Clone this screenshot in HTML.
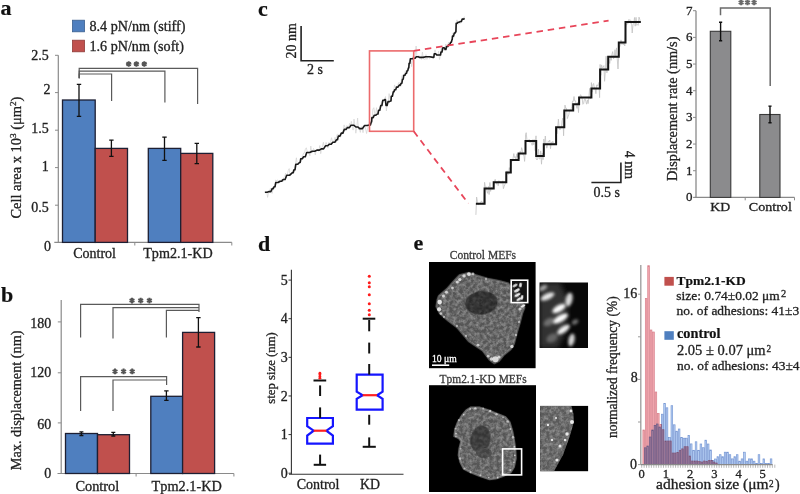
<!DOCTYPE html><html><head><meta charset="utf-8"><style>html,body{margin:0;padding:0;background:#fff;width:800px;height:494px;overflow:hidden}text{font-family:'Liberation Serif',serif}</style></head><body><svg width="800" height="494" viewBox="0 0 800 494" style="display:block;filter:blur(0.4px);font-family:'Liberation Serif',serif"><text x="0.5" y="15.3" font-size="22" text-anchor="start" font-weight="bold" fill="#111" stroke="#111" stroke-width="0.2" >a</text>
<text x="1" y="301.5" font-size="22" text-anchor="start" font-weight="bold" fill="#111" stroke="#111" stroke-width="0.2" >b</text>
<text x="258" y="15.5" font-size="22" text-anchor="start" font-weight="bold" fill="#111" stroke="#111" stroke-width="0.2" >c</text>
<text x="258" y="250.8" font-size="22" text-anchor="start" font-weight="bold" fill="#111" stroke="#111" stroke-width="0.2" >d</text>
<text x="413.5" y="250.4" font-size="22" text-anchor="start" font-weight="bold" fill="#111" stroke="#111" stroke-width="0.2" >e</text>
<rect x="72.5" y="20.2" width="12" height="11.6" fill="#4f7fbf" stroke="#3b5f8f" stroke-width="0.8" />
<rect x="72.5" y="40.2" width="12" height="11.6" fill="#c0504d" stroke="#8f3b39" stroke-width="0.8" />
<text x="89.5" y="31.3" font-size="14" text-anchor="start" font-weight="normal" fill="#222" stroke="#222" stroke-width="0.3" textLength="96" lengthAdjust="spacingAndGlyphs" >8.4 pN/nm (stiff)</text>
<text x="89.5" y="51.3" font-size="14" text-anchor="start" font-weight="normal" fill="#222" stroke="#222" stroke-width="0.3" textLength="94.5" lengthAdjust="spacingAndGlyphs" >1.6 pN/nm (soft)</text>
<line x1="58.3" y1="55.3" x2="58.3" y2="242.4" stroke="#8a8a8a" stroke-width="1.2" />
<line x1="54.3" y1="242.4" x2="231.8" y2="242.4" stroke="#8a8a8a" stroke-width="1.2" />
<line x1="55" y1="55.3" x2="58.3" y2="55.3" stroke="#8a8a8a" stroke-width="1" />
<line x1="55" y1="92.6" x2="58.3" y2="92.6" stroke="#8a8a8a" stroke-width="1" />
<line x1="55" y1="130.2" x2="58.3" y2="130.2" stroke="#8a8a8a" stroke-width="1" />
<line x1="55" y1="167.6" x2="58.3" y2="167.6" stroke="#8a8a8a" stroke-width="1" />
<line x1="55" y1="205.2" x2="58.3" y2="205.2" stroke="#8a8a8a" stroke-width="1" />
<line x1="134.8" y1="242.4" x2="134.8" y2="245.5" stroke="#8a8a8a" stroke-width="1" />
<line x1="231.8" y1="242.4" x2="231.8" y2="245.5" stroke="#8a8a8a" stroke-width="1" />
<text x="48.8" y="59.6" font-size="14" text-anchor="end" font-weight="normal" fill="#222" stroke="#222" stroke-width="0.3" >2.5</text>
<text x="50.6" y="93.5" font-size="14" text-anchor="end" font-weight="normal" fill="#222" stroke="#222" stroke-width="0.3" >2</text>
<text x="48.8" y="133" font-size="14" text-anchor="end" font-weight="normal" fill="#222" stroke="#222" stroke-width="0.3" >1.5</text>
<text x="48.8" y="170.6" font-size="14" text-anchor="end" font-weight="normal" fill="#222" stroke="#222" stroke-width="0.3" >1</text>
<text x="48.8" y="211.9" font-size="14" text-anchor="end" font-weight="normal" fill="#222" stroke="#222" stroke-width="0.3" >0.5</text>
<text x="51" y="251.4" font-size="14" text-anchor="end" font-weight="normal" fill="#222" stroke="#222" stroke-width="0.3" >0</text>
<rect x="62.5" y="100" width="32.7" height="142.4" fill="#4f7fbf" stroke="#1d1f33" stroke-width="1.3" />
<rect x="95.2" y="148.4" width="32.3" height="94.0" fill="#c0504d" stroke="#1d1f33" stroke-width="1.3" />
<rect x="148.3" y="148.4" width="32.39999999999998" height="94.0" fill="#4f7fbf" stroke="#1d1f33" stroke-width="1.3" />
<rect x="180.7" y="153.4" width="32.10000000000002" height="89.0" fill="#c0504d" stroke="#1d1f33" stroke-width="1.3" />
<path d="M79 84.4V116.3M76.8 84.4H81.2M76.8 116.3H81.2" stroke="#111" stroke-width="1.3" fill="none" />
<path d="M111.4 140.2V156.4M109.2 140.2H113.60000000000001M109.2 156.4H113.60000000000001" stroke="#111" stroke-width="1.3" fill="none" />
<path d="M164.5 137.2V160.4M162.3 137.2H166.7M162.3 160.4H166.7" stroke="#111" stroke-width="1.3" fill="none" />
<path d="M196.8 143.4V163.6M194.60000000000002 143.4H199.0M194.60000000000002 163.6H199.0" stroke="#111" stroke-width="1.3" fill="none" />
<path d="M79.2 78.2V68.4H197.6V104" stroke="#5a5a5a" stroke-width="1.2" fill="none" />
<path d="M79.2 78.2V71.2H164.9V102.5" stroke="#5a5a5a" stroke-width="1.2" fill="none" />
<path d="M79.2 78.2V74H111.6V101" stroke="#5a5a5a" stroke-width="1.2" fill="none" />
<path d="M128.70 61.20L128.70 66.80M126.28 62.60L131.12 65.40M126.28 65.40L131.12 62.60" stroke="#555" stroke-width="2" fill="none" />
<path d="M136.40 61.20L136.40 66.80M133.98 62.60L138.82 65.40M133.98 65.40L138.82 62.60" stroke="#555" stroke-width="2" fill="none" />
<path d="M144.30 61.20L144.30 66.80M141.88 62.60L146.72 65.40M141.88 65.40L146.72 62.60" stroke="#555" stroke-width="2" fill="none" />
<text x="73.2" y="257.6" font-size="14" text-anchor="start" font-weight="normal" fill="#222" stroke="#222" stroke-width="0.3" textLength="42.8" lengthAdjust="spacingAndGlyphs" >Control</text>
<text x="143.2" y="257.6" font-size="14" text-anchor="start" font-weight="normal" fill="#222" stroke="#222" stroke-width="0.3" textLength="69.6" lengthAdjust="spacingAndGlyphs" >Tpm2.1-KD</text>
<text x="0" y="0" font-size="14" text-anchor="middle" font-weight="normal" fill="#222" stroke="#222" stroke-width="0.3" textLength="122" lengthAdjust="spacingAndGlyphs" transform="translate(21.4 157.6) rotate(-90)">Cell area x 10<tspan font-size='9' dy='-5'>3</tspan><tspan dy='5'> (μm</tspan><tspan font-size='9' dy='-5'>2</tspan><tspan dy='5'>)</tspan></text>
<line x1="61.2" y1="300" x2="61.2" y2="473.5" stroke="#8a8a8a" stroke-width="1.2" />
<line x1="57.5" y1="473.5" x2="233.9" y2="473.5" stroke="#8a8a8a" stroke-width="1.2" />
<line x1="57.8" y1="321.9" x2="61.2" y2="321.9" stroke="#8a8a8a" stroke-width="1" />
<line x1="57.8" y1="372.8" x2="61.2" y2="372.8" stroke="#8a8a8a" stroke-width="1" />
<line x1="57.8" y1="422.9" x2="61.2" y2="422.9" stroke="#8a8a8a" stroke-width="1" />
<line x1="136.1" y1="473.5" x2="136.1" y2="476.5" stroke="#8a8a8a" stroke-width="1" />
<line x1="233.9" y1="473.5" x2="233.9" y2="476.5" stroke="#8a8a8a" stroke-width="1" />
<text x="51.3" y="328.4" font-size="14" text-anchor="end" font-weight="normal" fill="#222" stroke="#222" stroke-width="0.3" >180</text>
<text x="51.3" y="377.4" font-size="14" text-anchor="end" font-weight="normal" fill="#222" stroke="#222" stroke-width="0.3" >120</text>
<text x="51.3" y="428.6" font-size="14" text-anchor="end" font-weight="normal" fill="#222" stroke="#222" stroke-width="0.3" >60</text>
<text x="51.3" y="477.8" font-size="14" text-anchor="end" font-weight="normal" fill="#222" stroke="#222" stroke-width="0.3" >0</text>
<rect x="65.5" y="433.5" width="32.0" height="40.0" fill="#4f7fbf" stroke="#1d1f33" stroke-width="1.3" />
<rect x="97.5" y="434.7" width="32.0" height="38.80000000000001" fill="#c0504d" stroke="#1d1f33" stroke-width="1.3" />
<rect x="150.8" y="396.3" width="31.799999999999983" height="77.19999999999999" fill="#4f7fbf" stroke="#1d1f33" stroke-width="1.3" />
<rect x="182.6" y="332.4" width="32.0" height="141.10000000000002" fill="#c0504d" stroke="#1d1f33" stroke-width="1.3" />
<path d="M81.4 431.8V435.5M79.4 431.8H83.4M79.4 435.5H83.4" stroke="#111" stroke-width="1.3" fill="none" />
<path d="M113.3 432.4V436M111.3 432.4H115.3M111.3 436H115.3" stroke="#111" stroke-width="1.3" fill="none" />
<path d="M166.4 390.9V400.3M164.20000000000002 390.9H168.6M164.20000000000002 400.3H168.6" stroke="#111" stroke-width="1.3" fill="none" />
<path d="M198.4 317.6V347M196.20000000000002 317.6H200.6M196.20000000000002 347H200.6" stroke="#111" stroke-width="1.3" fill="none" />
<path d="M80.6 337.4V304.4H199V312" stroke="#5a5a5a" stroke-width="1.2" fill="none" />
<path d="M113 338.6V307.6H199" stroke="#5a5a5a" stroke-width="1.2" fill="none" />
<path d="M166.4 337.4V310.4H199" stroke="#5a5a5a" stroke-width="1.2" fill="none" />
<path d="M132.00 297.80L132.00 303.40M129.58 299.20L134.42 302.00M129.58 302.00L134.42 299.20" stroke="#555" stroke-width="2" fill="none" />
<path d="M140.70 297.80L140.70 303.40M138.28 299.20L143.12 302.00M138.28 302.00L143.12 299.20" stroke="#555" stroke-width="2" fill="none" />
<path d="M149.40 297.80L149.40 303.40M146.98 299.20L151.82 302.00M146.98 302.00L151.82 299.20" stroke="#555" stroke-width="2" fill="none" />
<path d="M80.6 411V376.6H166.6V385" stroke="#5a5a5a" stroke-width="1.2" fill="none" />
<path d="M113 411V380H166.6" stroke="#5a5a5a" stroke-width="1.2" fill="none" />
<path d="M115.00 368.60L115.00 374.20M112.58 370.00L117.42 372.80M112.58 372.80L117.42 370.00" stroke="#555" stroke-width="2" fill="none" />
<path d="M123.60 368.60L123.60 374.20M121.18 370.00L126.02 372.80M121.18 372.80L126.02 370.00" stroke="#555" stroke-width="2" fill="none" />
<path d="M132.20 368.60L132.20 374.20M129.78 370.00L134.62 372.80M129.78 372.80L134.62 370.00" stroke="#555" stroke-width="2" fill="none" />
<text x="75.4" y="490.8" font-size="14" text-anchor="start" font-weight="normal" fill="#222" stroke="#222" stroke-width="0.3" textLength="43.9" lengthAdjust="spacingAndGlyphs" >Control</text>
<text x="151.5" y="490.8" font-size="14" text-anchor="start" font-weight="normal" fill="#222" stroke="#222" stroke-width="0.3" textLength="70.4" lengthAdjust="spacingAndGlyphs" >Tpm2.1-KD</text>
<text x="0" y="0" font-size="14" text-anchor="middle" font-weight="normal" fill="#222" stroke="#222" stroke-width="0.3" textLength="139.7" lengthAdjust="spacingAndGlyphs" transform="translate(21.2 400.3) rotate(-90)">Max. displacement (nm)</text>
<polyline points="264.9,191.6 265.8,193.2 266.7,191.4 267.6,197.4 268.5,192.6 269.4,191.7 270.3,188.5 271.2,188.5 272.1,193.4 273.0,189.0 273.9,189.2 274.8,186.6 275.7,179.9 276.6,181.1 277.5,179.9 278.4,180.5 279.3,183.1 280.2,182.1 281.1,180.0 282.0,179.6 282.9,181.7 283.8,177.7 284.7,176.5 285.6,173.2 286.5,177.8 287.4,174.0 288.3,170.3 289.2,168.6 290.1,176.1 291.0,173.7 291.9,173.1 292.8,170.6 293.7,172.4 294.6,169.1 295.5,163.5 296.4,157.8 297.3,164.7 298.2,163.8 299.1,162.7 300.0,161.2 300.9,161.9 301.8,157.1 302.7,155.7 303.6,153.1 304.5,152.9 305.4,149.1 306.3,147.8 307.2,151.2 308.1,153.2 309.0,153.3 309.9,155.8 310.8,146.0 311.7,153.0 312.6,152.4 313.5,148.5 314.4,149.9 315.3,154.9 316.2,149.7 317.1,149.1 318.0,151.1 318.9,151.0 319.8,145.5 320.7,153.7 321.6,149.1 322.5,146.1 323.4,142.2 324.3,147.6 325.2,146.5 326.1,142.4 327.0,145.6 327.9,148.1 328.8,142.4 329.7,144.5 330.6,141.6 331.5,137.7 332.4,141.1 333.3,142.3 334.2,140.1 335.1,137.3 336.0,142.4 336.9,134.9 337.8,133.9 338.7,135.3 339.6,136.4 340.5,137.2 341.4,134.3 342.3,134.2 343.2,130.2 344.1,124.9 345.0,127.8 345.9,127.4 346.8,125.5 347.7,127.4 348.6,128.6 349.5,123.4 350.4,126.7 351.3,121.3 352.2,125.4 353.1,130.1 354.0,119.1 354.9,125.1 355.8,133.2 356.7,128.3 357.6,118.1 358.5,129.6 359.4,128.2 360.3,132.4 361.2,127.4 362.1,126.3 363.0,132.7 363.9,125.6 364.8,125.6 365.7,129.1 366.6,133.5 367.5,128.8 368.4,126.0 369.3,122.6 370.2,125.2 371.1,121.5 372.0,121.4 372.9,109.0 373.8,107.7 374.7,113.1 375.6,115.3 376.5,107.7 377.4,113.4 378.3,111.7 379.2,110.8 380.1,106.5 381.0,103.9 381.9,101.0 382.8,100.2 383.7,101.8 384.6,99.3 385.5,96.6 386.4,110.9 387.3,102.3 388.2,101.9 389.1,93.6 390.0,99.1 390.9,101.5 391.8,95.2 392.7,93.4 393.6,92.6 394.5,84.9 395.4,87.5 396.3,86.0 397.2,87.8 398.1,84.0 399.0,82.3 399.9,86.5 400.8,86.4 401.7,76.3 402.6,74.9 403.5,76.8 404.4,75.0 405.3,70.9 406.2,71.4 407.1,69.9 408.0,69.1 408.9,64.6 409.8,58.4 410.7,59.1 411.6,66.7 412.5,58.7 413.4,55.2 414.3,57.8 415.2,56.0 416.1,46.0 417.0,57.4 417.9,56.6 418.8,55.5 419.7,57.0 420.6,58.2 421.5,59.4 422.4,52.1 423.3,58.7 424.2,59.0 425.1,59.5 426.0,54.6 426.9,59.4 427.8,57.0 428.7,56.0 429.6,58.7 430.5,57.8 431.4,56.3 432.3,57.3 433.2,57.9 434.1,54.5 435.0,49.8 435.9,53.7 436.8,54.1 437.7,55.6 438.6,51.2 439.5,59.5 440.4,55.8 441.3,47.8 442.2,50.3 443.1,49.0 444.0,50.6 444.9,47.9 445.8,44.0 446.7,48.7 447.6,46.8 448.5,42.3 449.4,43.9 450.3,42.2 451.2,42.0 452.1,41.3 453.0,32.9 453.9,37.3 454.8,34.0 455.7,32.3 456.6,20.0 457.5,20.2 458.4,24.2 459.3,23.4 460.2,23.2 461.1,22.8 462.0,19.4 462.9,19.3 463.8,17.2 464.7,16.8" fill="none" stroke="#d2d2d2" stroke-width="0.7"/>
<path d="M264.9 192.2L267.2 192.2L269.1 191.6L270.8 191.6L272.2 188.6L273.2 188.6L274 186.8L275.0 186.8L275.8 182.5L278.1 182.5L280 181.3L281.7 181.3L283.1 179.5L285.1 179.5L286.7 175.2L289.7 175.2L292.2 172.8L293.2 172.8L294 169.8L295.0 169.8L295.8 164.3L297.8 164.3L299.5 162.5L300.2 162.5L300.7 158.8L302.3 158.8L303.6 156.8L305.3 156.8L306.7 152.5L309.7 152.5L312.2 151.3L314.8 151.3L317 150.1L319.4 150.1L321.3 148.9L323.6 148.9L325.5 145.8L327.5 145.8L329.2 144.3L331.2 144.3L332.8 142.2L334.8 142.2L336.5 139.8L337.5 139.8L338.3 136.1L339.9 136.1L341.3 133.1L342.9 133.1L344.3 129.4L346.0 129.4L347.4 127.6L349.4 127.6L351 125.2L353.7 125.2L355.9 127L358.0 127L359.7 128.6L362.4 128.6L364.6 125.5L367.2 125.5L369.4 124.9L370.4 124.9L371.3 121.9L371.6 121.9L371.9 117.6L373.2 117.6L374.3 115.2L375.9 115.2L377.3 114L378.0 114L378.6 110.3L379.8 110.3L380.8 105.5L381.9 105.5L382.8 100.3L383.8 100.3L384.7 99.6L385.4 99.6L386 105.5L387.1 105.5L388 101.6L389.5 101.6L390.7 100.9L391.0 100.9L391.3 96.3L392.4 96.3L393.3 91.7L394.0 91.7L394.6 89.7L395.7 89.7L396.6 87.1L398.0 87.1L399.2 85.1L400.3 85.1L401.2 83.2L401.9 83.2L402.5 79.2L403.2 79.2L403.8 75.3L404.9 75.3L405.8 73.3L406.5 73.3L407.1 70.7L407.8 70.7L408.4 68L408.8 68L409.1 63.4L409.8 63.4L410.4 58.8L412.2 58.8L413.7 58.2L415.1 58.2L416.3 56.8L418.2 56.8L419.7 57.4L423.1 57.4L425.8 56.8L429.8 56.8L433.1 57.4L433.8 57.4L434.3 53.7L435.6 53.7L436.7 55L438.4 55L439.8 55L440.5 55L441 52L442.0 52L442.8 47.7L444.1 47.7L445.2 49.5L445.9 49.5L446.5 46.5L447.8 46.5L448.9 44.6L449.9 44.6L450.7 42.2L451.4 42.2L451.9 39.8L452.2 39.8L452.5 36.1L453.5 36.1L454.3 33.1L455.0 33.1L455.6 31.9L455.9 31.9L456.2 23.4L457.2 23.4L458 22.2L459.3 22.2L460.4 21.5L461.4 21.5L462.2 19.1L463.6 19.1L464.7 18.5" stroke="#1a1a1a" stroke-width="1.6" fill="none" stroke-linejoin="round"/>
<polyline points="475.9,214.9 476.6,197.1 477.4,201.5 478.1,204.6 478.9,204.5 479.6,203.3 480.4,203.4 481.1,201.3 481.9,201.3 482.6,203.5 483.4,204.3 484.1,190.8 484.6,182.3 485.4,187.7 486.1,186.7 486.9,191.3 487.6,193.3 488.4,186.4 489.1,194.5 489.9,182.5 490.6,191.4 491.4,187.1 492.1,189.4 492.9,187.4 493.6,186.3 493.7,182.2 494.4,181.4 495.2,179.3 495.9,182.4 496.7,184.3 497.4,181.7 498.2,185.7 498.9,180.6 499.7,182.8 500.4,181.7 501.2,183.3 501.9,182.4 502.7,180.8 503.4,188.7 504.2,186.3 504.9,184.5 505.7,182.4 506.3,172.4 507.1,170.8 507.8,174.2 508.6,174.3 509.3,167.6 510.1,171.3 510.8,167.8 511.6,161.1 512.3,161.2 513.0,158.7 513.8,153.6 514.5,157.5 515.3,156.6 516.0,159.9 516.8,153.8 517.5,157.2 518.3,153.6 518.6,157.3 519.4,159.0 520.1,151.2 520.9,153.4 521.6,147.7 522.4,150.3 523.1,155.0 523.9,154.9 524.6,161.4 525.4,150.9 525.5,134.8 526.2,132.7 527.0,141.0 527.8,142.0 528.5,140.2 529.2,139.3 530.0,142.5 530.8,141.7 531.5,143.6 532.2,145.3 533.0,139.5 533.8,144.9 534.5,139.7 535.2,150.7 536.0,135.8 536.2,158.7 537.0,160.0 537.7,158.8 538.5,149.1 539.2,158.8 540.0,158.9 540.7,150.9 541.5,164.2 542.2,152.9 543.0,159.7 543.7,153.5 543.8,139.1 544.5,145.7 545.3,136.0 546.0,143.8 546.8,148.2 547.5,145.3 548.3,140.9 549.0,141.8 549.8,140.0 550.5,148.7 551.3,141.9 552.0,144.4 552.8,141.3 553.5,143.3 554.3,143.3 555.0,144.1 555.8,143.1 556.1,127.1 556.9,133.8 557.6,128.5 558.4,119.2 559.1,127.6 559.9,129.9 560.6,128.4 561.4,127.9 562.1,120.8 562.9,118.0 563.6,135.8 564.3,113.4 565.0,105.1 565.8,108.6 566.5,108.3 567.3,118.6 568.0,116.8 568.8,114.8 569.5,110.3 570.3,110.6 571.0,109.6 571.8,106.5 572.5,101.2 573.2,101.7 574.0,96.5 574.7,100.9 575.5,100.8 576.2,104.9 577.0,108.4 577.7,102.2 578.5,112.6 579.1,101.3 579.9,96.3 580.6,94.7 581.4,96.3 582.1,98.1 582.9,104.3 583.6,103.6 584.4,99.4 585.1,98.8 585.9,101.6 586.6,104.2 587.4,99.9 588.1,103.6 588.9,97.6 589.6,88.4 590.4,98.9 591.1,95.3 591.4,82.6 592.1,92.2 592.9,84.6 593.6,83.5 594.4,88.0 595.1,88.3 595.9,93.7 596.6,85.0 597.4,84.8 598.1,86.4 598.9,82.4 599.6,97.7 600.1,64.4 600.9,75.3 601.6,64.9 602.4,67.9 603.1,67.1 603.9,65.6 604.6,81.3 605.4,70.2 606.1,56.2 606.9,72.9 607.6,64.7 608.2,57.9 609.0,57.6 609.7,63.5 610.5,57.0 611.2,60.4 612.0,54.1 612.7,51.6 613.5,58.8 614.2,57.6 615.0,49.7 615.7,57.2 616.5,47.9 617.2,58.2 618.0,69.0 618.7,56.2 618.8,47.4 619.5,47.4 620.3,45.2 621.0,39.9 621.8,44.4 622.5,43.2 623.3,44.9 624.0,42.9 624.8,46.0 625.5,27.1 626.2,24.2 627.0,23.6 627.8,24.1 628.5,19.7 629.2,20.3 630.0,19.5 630.8,23.4 631.5,20.9 632.2,33.0 633.0,24.4 633.8,23.8 634.5,17.5 635.2,26.2 636.0,17.3 636.8,25.3 637.5,24.6 638.2,25.3 639.0,17.1 639.8,19.5 640.5,22.6" fill="none" stroke="#c2c2c2" stroke-width="0.8"/>
<path d="M475.9 203.7H484.6V188.6H493.7V182.2H506.3V172.6H510.8V160H518.6V153.5H525.5V141.1H536.2V156H543.8V144.2H556.1V127.2H564.3V110.6H573.2V104.2H579.1V97.4H591.4V88.4H600.1V69.5H608.2V56.7H618.8V42.5H625.5V21.9H640.8" stroke="#151515" stroke-width="2" fill="none" />
<rect x="369.5" y="50.9" width="44.2" height="80.4" fill="none" stroke="#ec6a6c" stroke-width="1.6" />
<line x1="413.7" y1="50.9" x2="608.6" y2="20.7" stroke="#e8465a" stroke-width="1.8" stroke-dasharray="6.5 4.8"/>
<line x1="413.7" y1="131.3" x2="468.3" y2="203.5" stroke="#e8465a" stroke-width="1.8" stroke-dasharray="6.5 4.8"/>
<path d="M301.1 25.9V60.7H333.8" stroke="#222" stroke-width="1.6" fill="none" />
<text x="0" y="0" font-size="14" text-anchor="middle" font-weight="normal" fill="#222" stroke="#222" stroke-width="0.3" transform="translate(296.2 40.9) rotate(-90)">20 nm</text>
<text x="307" y="74.1" font-size="14" text-anchor="start" font-weight="normal" fill="#222" stroke="#222" stroke-width="0.3" >2 s</text>
<path d="M620.9 162.5V182.5H591.4" stroke="#222" stroke-width="1.6" fill="none" />
<text x="0" y="0" font-size="14" text-anchor="middle" font-weight="normal" fill="#222" stroke="#222" stroke-width="0.3" transform="translate(625.4 164.9) rotate(90)">4 nm</text>
<text x="593.6" y="196.5" font-size="14" text-anchor="start" font-weight="normal" fill="#222" stroke="#222" stroke-width="0.3" >0.5 s</text>
<line x1="696" y1="10.7" x2="696" y2="197.4" stroke="#8a8a8a" stroke-width="1.3" />
<line x1="694.5" y1="197.4" x2="794.5" y2="197.4" stroke="#8a8a8a" stroke-width="1.3" />
<line x1="693" y1="197.4" x2="696" y2="197.4" stroke="#8a8a8a" stroke-width="1" />
<text x="692.6" y="201.3" font-size="13" text-anchor="end" font-weight="normal" fill="#222" stroke="#222" stroke-width="0.3" >0</text>
<line x1="693" y1="170.73000000000002" x2="696" y2="170.73000000000002" stroke="#8a8a8a" stroke-width="1" />
<text x="692.6" y="174.63000000000002" font-size="13" text-anchor="end" font-weight="normal" fill="#222" stroke="#222" stroke-width="0.3" >1</text>
<line x1="693" y1="144.06" x2="696" y2="144.06" stroke="#8a8a8a" stroke-width="1" />
<text x="692.6" y="147.96" font-size="13" text-anchor="end" font-weight="normal" fill="#222" stroke="#222" stroke-width="0.3" >2</text>
<line x1="693" y1="117.39" x2="696" y2="117.39" stroke="#8a8a8a" stroke-width="1" />
<text x="692.6" y="121.29" font-size="13" text-anchor="end" font-weight="normal" fill="#222" stroke="#222" stroke-width="0.3" >3</text>
<line x1="693" y1="90.72" x2="696" y2="90.72" stroke="#8a8a8a" stroke-width="1" />
<text x="692.6" y="94.62" font-size="13" text-anchor="end" font-weight="normal" fill="#222" stroke="#222" stroke-width="0.3" >4</text>
<line x1="693" y1="64.04999999999998" x2="696" y2="64.04999999999998" stroke="#8a8a8a" stroke-width="1" />
<text x="692.6" y="67.94999999999999" font-size="13" text-anchor="end" font-weight="normal" fill="#222" stroke="#222" stroke-width="0.3" >5</text>
<line x1="693" y1="37.379999999999995" x2="696" y2="37.379999999999995" stroke="#8a8a8a" stroke-width="1" />
<text x="692.6" y="41.279999999999994" font-size="13" text-anchor="end" font-weight="normal" fill="#222" stroke="#222" stroke-width="0.3" >6</text>
<line x1="693" y1="10.710000000000008" x2="696" y2="10.710000000000008" stroke="#8a8a8a" stroke-width="1" />
<text x="692.6" y="14.610000000000008" font-size="13" text-anchor="end" font-weight="normal" fill="#222" stroke="#222" stroke-width="0.3" >7</text>
<line x1="745.2" y1="197.4" x2="745.2" y2="200.3" stroke="#8a8a8a" stroke-width="1" />
<line x1="794.5" y1="197.4" x2="794.5" y2="200.3" stroke="#8a8a8a" stroke-width="1" />
<rect x="710.3" y="31.3" width="20.5" height="166.1" fill="#8b8b8d" stroke="#3a3a3a" stroke-width="1.1" />
<rect x="759.8" y="114.5" width="20.2" height="82.9" fill="#8b8b8d" stroke="#3a3a3a" stroke-width="1.1" />
<path d="M720.6 22.2V40.7M719.0 22.2H722.2M719.0 40.7H722.2" stroke="#111" stroke-width="1.4" fill="none" />
<path d="M770 106.1V122.8M768.4 106.1H771.6M768.4 122.8H771.6" stroke="#111" stroke-width="1.4" fill="none" />
<path d="M720.5 15.2V7.9H770.2V85.9" stroke="#6a6a6a" stroke-width="1.5" fill="none" />
<path d="M741.10 -0.40L741.10 5.20M738.68 1.00L743.52 3.80M738.68 3.80L743.52 1.00" stroke="#6a6a6a" stroke-width="2" fill="none" />
<path d="M747.50 -0.40L747.50 5.20M745.08 1.00L749.92 3.80M745.08 3.80L749.92 1.00" stroke="#6a6a6a" stroke-width="2" fill="none" />
<path d="M754.10 -0.40L754.10 5.20M751.68 1.00L756.52 3.80M751.68 3.80L756.52 1.00" stroke="#6a6a6a" stroke-width="2" fill="none" />
<text x="710.3" y="211" font-size="13" text-anchor="start" font-weight="normal" fill="#222" stroke="#222" stroke-width="0.3" textLength="19.9" lengthAdjust="spacingAndGlyphs" >KD</text>
<text x="748.8" y="211" font-size="13" text-anchor="start" font-weight="normal" fill="#222" stroke="#222" stroke-width="0.3" textLength="43" lengthAdjust="spacingAndGlyphs" >Control</text>
<text x="0" y="0" font-size="14.5" text-anchor="middle" font-weight="normal" fill="#222" stroke="#222" stroke-width="0.3" textLength="144.5" lengthAdjust="spacingAndGlyphs" transform="translate(677.3 108.8) rotate(-90)">Displacement rate (nm/s)</text>
<line x1="291.4" y1="269.7" x2="291.4" y2="474.3" stroke="#333" stroke-width="1.1" />
<line x1="289" y1="474.3" x2="403.5" y2="474.3" stroke="#333" stroke-width="1.1" />
<line x1="288.5" y1="473.2" x2="291.4" y2="473.2" stroke="#333" stroke-width="1" />
<text x="287.8" y="477.8" font-size="14" text-anchor="end" font-weight="normal" fill="#222" stroke="#222" stroke-width="0.3" >0</text>
<line x1="288.5" y1="434.58" x2="291.4" y2="434.58" stroke="#333" stroke-width="1" />
<text x="287.8" y="439.18" font-size="14" text-anchor="end" font-weight="normal" fill="#222" stroke="#222" stroke-width="0.3" >1</text>
<line x1="288.5" y1="395.96" x2="291.4" y2="395.96" stroke="#333" stroke-width="1" />
<text x="287.8" y="400.56" font-size="14" text-anchor="end" font-weight="normal" fill="#222" stroke="#222" stroke-width="0.3" >2</text>
<line x1="288.5" y1="357.34000000000003" x2="291.4" y2="357.34000000000003" stroke="#333" stroke-width="1" />
<text x="287.8" y="361.94000000000005" font-size="14" text-anchor="end" font-weight="normal" fill="#222" stroke="#222" stroke-width="0.3" >3</text>
<line x1="288.5" y1="318.72" x2="291.4" y2="318.72" stroke="#333" stroke-width="1" />
<text x="287.8" y="323.32000000000005" font-size="14" text-anchor="end" font-weight="normal" fill="#222" stroke="#222" stroke-width="0.3" >4</text>
<line x1="288.5" y1="280.1" x2="291.4" y2="280.1" stroke="#333" stroke-width="1" />
<text x="287.8" y="284.70000000000005" font-size="14" text-anchor="end" font-weight="normal" fill="#222" stroke="#222" stroke-width="0.3" >5</text>
<text x="0" y="0" font-size="13" text-anchor="middle" font-weight="normal" fill="#222" stroke="#222" stroke-width="0.3" textLength="71.5" lengthAdjust="spacingAndGlyphs" transform="translate(275 367.9) rotate(-90)">step size (nm)</text>
<path d="M307.2 418H332.9V426.2L326.4 430.7L332.9 435.5V443.7H307.2V435.5L313.7 430.7L307.2 426.2Z" stroke="#1515ff" stroke-width="2.2" fill="none" />
<line x1="313.7" y1="430.7" x2="326.4" y2="430.7" stroke="#ff2020" stroke-width="2.2" />
<path d="M356.7 374.6H382.6V391.6L377 395.2L382.6 398.9V409.6H356.7V398.9L362.7 395.2L356.7 391.6Z" stroke="#1515ff" stroke-width="2.2" fill="none" />
<line x1="362.7" y1="395.2" x2="377" y2="395.2" stroke="#ff2020" stroke-width="2.2" />
<line x1="320.1" y1="407.4" x2="320.1" y2="418" stroke="#111" stroke-width="2" />
<line x1="320.1" y1="385.4" x2="320.1" y2="396" stroke="#111" stroke-width="2" />
<line x1="313.5" y1="380.5" x2="326.2" y2="380.5" stroke="#111" stroke-width="2" />
<line x1="320.1" y1="454.6" x2="320.1" y2="464.8" stroke="#111" stroke-width="2" />
<line x1="313.7" y1="464.8" x2="326.1" y2="464.8" stroke="#111" stroke-width="2" />
<circle cx="319.9" cy="373.2" r="1.4" fill="#ff1a1a"/>
<circle cx="319.9" cy="374.8" r="1.4" fill="#ff1a1a"/>
<circle cx="319.9" cy="376.6" r="1.4" fill="#ff1a1a"/>
<circle cx="319.9" cy="378.2" r="1.4" fill="#ff1a1a"/>
<line x1="369.2" y1="364" x2="369.2" y2="374.6" stroke="#111" stroke-width="2" />
<line x1="369.2" y1="342.6" x2="369.2" y2="353.5" stroke="#111" stroke-width="2" />
<line x1="369.2" y1="320" x2="369.2" y2="331.3" stroke="#111" stroke-width="2" />
<line x1="362.7" y1="318.7" x2="375.3" y2="318.7" stroke="#111" stroke-width="2" />
<line x1="369.2" y1="414.8" x2="369.2" y2="424.7" stroke="#111" stroke-width="2" />
<line x1="369.2" y1="437.4" x2="369.2" y2="446.8" stroke="#111" stroke-width="2" />
<line x1="362.7" y1="446.8" x2="375.8" y2="446.8" stroke="#111" stroke-width="2" />
<circle cx="369.3" cy="276.2" r="1.5" fill="#ff1a1a"/>
<circle cx="369.3" cy="282.7" r="1.5" fill="#ff1a1a"/>
<circle cx="369.3" cy="286.7" r="1.5" fill="#ff1a1a"/>
<circle cx="369.3" cy="294.8" r="1.5" fill="#ff1a1a"/>
<circle cx="369.3" cy="303.8" r="1.5" fill="#ff1a1a"/>
<circle cx="369.3" cy="310.2" r="1.5" fill="#ff1a1a"/>
<circle cx="369.3" cy="314.8" r="1.5" fill="#ff1a1a"/>
<text x="296.7" y="489.1" font-size="14" text-anchor="start" font-weight="normal" fill="#222" stroke="#222" stroke-width="0.3" textLength="42.8" lengthAdjust="spacingAndGlyphs" >Control</text>
<text x="360" y="489" font-size="14" text-anchor="start" font-weight="normal" fill="#222" stroke="#222" stroke-width="0.3" textLength="20" lengthAdjust="spacingAndGlyphs" >KD</text>
<defs>
<filter id="spk" x="0" y="0" width="1" height="1">
 <feTurbulence type="fractalNoise" baseFrequency="0.3" numOctaves="4" seed="5" result="n"/>
 <feColorMatrix in="n" type="matrix" values="0 0 0 0 1  0 0 0 0 1  0 0 0 0 1  2.2 0 0 0 -0.72" result="w"/>
 <feComposite in="w" in2="SourceGraphic" operator="in" result="c"/>
 <feGaussianBlur in="c" stdDeviation="0.6"/>
</filter>
<filter id="bl1" x="-200%" y="-200%" width="500%" height="500%"><feGaussianBlur stdDeviation="0.6"/></filter>
<filter id="bl09" x="-300%" y="-300%" width="700%" height="700%"><feGaussianBlur stdDeviation="0.75"/></filter>
<filter id="bl15" x="-20%" y="-20%" width="140%" height="140%"><feGaussianBlur stdDeviation="1.1"/></filter>
<filter id="bl2" x="-100%" y="-100%" width="300%" height="300%"><feGaussianBlur stdDeviation="1.4"/></filter>
<filter id="bl3" x="-50%" y="-50%" width="200%" height="200%"><feGaussianBlur stdDeviation="2.5"/></filter>
<clipPath id="c1"><rect x="429" y="262" width="106.6" height="106.2"/></clipPath>
<clipPath id="c2"><rect x="429" y="385.2" width="107" height="106.8"/></clipPath>
<clipPath id="c3"><rect x="539.6" y="282.5" width="48.4" height="65.5"/></clipPath>
<clipPath id="c4"><rect x="540.1" y="405.9" width="48" height="65.3"/></clipPath>
</defs>
<rect x="429" y="262" width="106.6" height="106.2" fill="#000" stroke="none" stroke-width="1" />
<rect x="429" y="385.2" width="107" height="106.8" fill="#000" stroke="none" stroke-width="1" />
<g clip-path="url(#c1)">
<path d="M438.9 296.1L446.9 289.2L455 279.9L459.6 275.3L468.9 273L475.8 275.3L487.4 278.8L498.9 281.1L508.1 283.4L513.9 290.3L522 301.9L524.3 307.7L522 313.4L519.7 322.7L516.2 334.2L513.9 343.5L510.5 349.2L503.5 355L498.9 360.8L494.3 363.1L489.7 359.6L482.7 350.4L475.8 345.8L468.9 341.1L463.1 334.2L457.3 327.3L448.1 320.4L440 313.4L436.5 306.5L437.7 299.6Z" fill="#555555" filter="url(#bl15)"/>
<path d="M438.9 296.1L446.9 289.2L455 279.9L459.6 275.3L468.9 273L475.8 275.3L487.4 278.8L498.9 281.1L508.1 283.4L513.9 290.3L522 301.9L524.3 307.7L522 313.4L519.7 322.7L516.2 334.2L513.9 343.5L510.5 349.2L503.5 355L498.9 360.8L494.3 363.1L489.7 359.6L482.7 350.4L475.8 345.8L468.9 341.1L463.1 334.2L457.3 327.3L448.1 320.4L440 313.4L436.5 306.5L437.7 299.6Z" fill="#fff" filter="url(#spk)" opacity="0.3"/>
<path d="M438.9 296.1L446.9 289.2L455 279.9L459.6 275.3L468.9 273L475.8 275.3L487.4 278.8L498.9 281.1L508.1 283.4L513.9 290.3L522 301.9L524.3 307.7L522 313.4L519.7 322.7L516.2 334.2L513.9 343.5L510.5 349.2L503.5 355L498.9 360.8L494.3 363.1L489.7 359.6L482.7 350.4L475.8 345.8L468.9 341.1L463.1 334.2L457.3 327.3L448.1 320.4L440 313.4L436.5 306.5L437.7 299.6Z" fill="none" stroke="#bbb" stroke-width="2.2" opacity="0.35" filter="url(#bl1)"/>
<ellipse cx="481.4" cy="302.8" rx="16.2" ry="11.6" transform="rotate(-6 481.4 302.8)" fill="#2a2a2a" filter="url(#bl1)"/>
<ellipse cx="481.4" cy="302.8" rx="16.2" ry="11.6" transform="rotate(-6 481.4 302.8)" fill="#fff" filter="url(#spk)" opacity="0.12"/>
<circle cx="468.9" cy="274.1" r="1.90" fill="#f4f4f4" opacity="0.81" filter="url(#bl09)"/>
<circle cx="464.0" cy="275.9" r="1.71" fill="#f4f4f4" opacity="0.77" filter="url(#bl09)"/>
<circle cx="459.8" cy="279.6" r="1.71" fill="#f4f4f4" opacity="0.77" filter="url(#bl09)"/>
<circle cx="457.3" cy="282.0" r="1.52" fill="#f4f4f4" opacity="0.72" filter="url(#bl09)"/>
<circle cx="452.5" cy="288.1" r="1.42" fill="#f4f4f4" opacity="0.68" filter="url(#bl09)"/>
<circle cx="446.4" cy="292.3" r="1.52" fill="#f4f4f4" opacity="0.72" filter="url(#bl09)"/>
<circle cx="443.4" cy="296.0" r="1.52" fill="#f4f4f4" opacity="0.72" filter="url(#bl09)"/>
<circle cx="439.7" cy="302.1" r="2.28" fill="#f4f4f4" opacity="0.90" filter="url(#bl09)"/>
<circle cx="439.1" cy="309.3" r="2.09" fill="#f4f4f4" opacity="0.85" filter="url(#bl09)"/>
<circle cx="440.9" cy="313.6" r="1.33" fill="#f4f4f4" opacity="0.63" filter="url(#bl09)"/>
<circle cx="473.0" cy="274.0" r="1.42" fill="#f4f4f4" opacity="0.63" filter="url(#bl09)"/>
<circle cx="495.5" cy="359.2" r="3.04" fill="#f4f4f4" opacity="0.81" filter="url(#bl09)"/>
<circle cx="491.5" cy="359.0" r="1.71" fill="#f4f4f4" opacity="0.72" filter="url(#bl09)"/>
<circle cx="499.0" cy="357.0" r="1.52" fill="#f4f4f4" opacity="0.72" filter="url(#bl09)"/>
<circle cx="511.9" cy="346.5" r="1.71" fill="#f4f4f4" opacity="0.77" filter="url(#bl09)"/>
<circle cx="477.9" cy="345.2" r="1.42" fill="#f4f4f4" opacity="0.68" filter="url(#bl09)"/>
<circle cx="488.2" cy="356.2" r="1.42" fill="#f4f4f4" opacity="0.63" filter="url(#bl09)"/>
<circle cx="516.0" cy="335.0" r="1.23" fill="#f4f4f4" opacity="0.54" filter="url(#bl09)"/>
<circle cx="519.0" cy="322.0" r="1.14" fill="#f4f4f4" opacity="0.54" filter="url(#bl09)"/>
<circle cx="520.0" cy="309.0" r="1.52" fill="#f4f4f4" opacity="0.68" filter="url(#bl09)"/>
<circle cx="457.0" cy="326.0" r="1.14" fill="#f4f4f4" opacity="0.54" filter="url(#bl09)"/>
<circle cx="466.0" cy="336.0" r="1.14" fill="#f4f4f4" opacity="0.54" filter="url(#bl09)"/>
<circle cx="444.0" cy="317.0" r="1.14" fill="#f4f4f4" opacity="0.54" filter="url(#bl09)"/>
<circle cx="486.0" cy="279.0" r="1.14" fill="#f4f4f4" opacity="0.50" filter="url(#bl09)"/>
</g>
<g clip-path="url(#c1)">
<rect x="512" y="281" width="15" height="21" fill="#1a1a1a" opacity="0.7" filter="url(#bl1)"/>
<ellipse cx="515" cy="285.5" rx="2.8" ry="1.3" transform="rotate(-30 515 285.5)" fill="#f0f0f0" opacity="0.95" filter="url(#bl1)"/>
<ellipse cx="520.5" cy="285" rx="1.4" ry="2.6" transform="rotate(10 520.5 285)" fill="#f0f0f0" opacity="0.95" filter="url(#bl1)"/>
<ellipse cx="517" cy="290.5" rx="3.2" ry="1.4" transform="rotate(-30 517 290.5)" fill="#f0f0f0" opacity="0.95" filter="url(#bl1)"/>
<ellipse cx="517.5" cy="295" rx="3.2" ry="1.4" transform="rotate(-30 517.5 295)" fill="#f0f0f0" opacity="0.95" filter="url(#bl1)"/>
<ellipse cx="519" cy="299.3" rx="2.8" ry="1.3" transform="rotate(-35 519 299.3)" fill="#f0f0f0" opacity="0.95" filter="url(#bl1)"/>
<ellipse cx="522" cy="297.5" rx="1.3" ry="2.4" transform="rotate(10 522 297.5)" fill="#f0f0f0" opacity="0.95" filter="url(#bl1)"/>
<ellipse cx="523" cy="306" rx="2.6" ry="1.3" transform="rotate(-35 523 306)" fill="#f0f0f0" opacity="0.95" filter="url(#bl1)"/>
</g>
<g clip-path="url(#c2)">
<path d="M470.8 407.7L479.4 407.7L488 410.3L496.6 413.8L505.2 417.2L509.5 422.4L512.1 431L513.8 439.6L515.2 449.9L515.6 458.5L513.8 467.1L510.4 472.3L503.5 475.7L496.6 478.3L489.7 479.2L479.4 475.7L470.8 472.3L463.9 468.8L460.5 462L458.8 455.1L459.6 448.2L461.4 441.3L458.8 437.9L454.5 436.1L455.3 429.3L457.9 422.4L462.2 415.5L466.5 410.3Z" fill="#565656" filter="url(#bl15)"/>
<path d="M470.8 407.7L479.4 407.7L488 410.3L496.6 413.8L505.2 417.2L509.5 422.4L512.1 431L513.8 439.6L515.2 449.9L515.6 458.5L513.8 467.1L510.4 472.3L503.5 475.7L496.6 478.3L489.7 479.2L479.4 475.7L470.8 472.3L463.9 468.8L460.5 462L458.8 455.1L459.6 448.2L461.4 441.3L458.8 437.9L454.5 436.1L455.3 429.3L457.9 422.4L462.2 415.5L466.5 410.3Z" fill="#fff" filter="url(#spk)" opacity="0.3"/>
<path d="M470.8 407.7L479.4 407.7L488 410.3L496.6 413.8L505.2 417.2L509.5 422.4L512.1 431L513.8 439.6L515.2 449.9L515.6 458.5L513.8 467.1L510.4 472.3L503.5 475.7L496.6 478.3L489.7 479.2L479.4 475.7L470.8 472.3L463.9 468.8L460.5 462L458.8 455.1L459.6 448.2L461.4 441.3L458.8 437.9L454.5 436.1L455.3 429.3L457.9 422.4L462.2 415.5L466.5 410.3Z" fill="none" stroke="#bbb" stroke-width="2.2" opacity="0.45" filter="url(#bl1)"/>
<ellipse cx="480.5" cy="439" rx="10" ry="13.5" transform="rotate(12 480.5 439)" fill="#363636" filter="url(#bl1)"/>
<ellipse cx="480.5" cy="439" rx="10" ry="13.5" transform="rotate(12 480.5 439)" fill="#fff" filter="url(#spk)" opacity="0.12"/>
<ellipse cx="484" cy="453" rx="8" ry="5" transform="rotate(0 484 453)" fill="#424242" filter="url(#bl1)"/>
<ellipse cx="484" cy="453" rx="8" ry="5" transform="rotate(0 484 453)" fill="#fff" filter="url(#spk)" opacity="0.12"/>
<circle cx="470.2" cy="408.9" r="0.94" fill="#f4f4f4" opacity="0.60" filter="url(#bl09)"/>
<circle cx="475.4" cy="408.4" r="1.21" fill="#f4f4f4" opacity="0.63" filter="url(#bl09)"/>
<circle cx="483.2" cy="408.6" r="1.00" fill="#f4f4f4" opacity="0.55" filter="url(#bl09)"/>
<circle cx="490.2" cy="410.9" r="1.14" fill="#f4f4f4" opacity="0.70" filter="url(#bl09)"/>
<circle cx="496.5" cy="414.2" r="1.20" fill="#f4f4f4" opacity="0.53" filter="url(#bl09)"/>
<circle cx="503.0" cy="417.3" r="0.78" fill="#f4f4f4" opacity="0.58" filter="url(#bl09)"/>
<circle cx="507.5" cy="421.5" r="1.30" fill="#f4f4f4" opacity="0.57" filter="url(#bl09)"/>
<circle cx="510.4" cy="429.1" r="1.07" fill="#f4f4f4" opacity="0.63" filter="url(#bl09)"/>
<circle cx="513.0" cy="437.2" r="1.23" fill="#f4f4f4" opacity="0.57" filter="url(#bl09)"/>
<circle cx="514.4" cy="446.7" r="0.88" fill="#f4f4f4" opacity="0.62" filter="url(#bl09)"/>
<circle cx="514.8" cy="455.4" r="0.83" fill="#f4f4f4" opacity="0.72" filter="url(#bl09)"/>
<circle cx="513.8" cy="462.3" r="0.92" fill="#f4f4f4" opacity="0.53" filter="url(#bl09)"/>
<circle cx="510.2" cy="469.9" r="1.00" fill="#f4f4f4" opacity="0.62" filter="url(#bl09)"/>
<circle cx="503.8" cy="474.1" r="0.89" fill="#f4f4f4" opacity="0.64" filter="url(#bl09)"/>
<circle cx="497.7" cy="477.5" r="0.88" fill="#f4f4f4" opacity="0.66" filter="url(#bl09)"/>
<circle cx="488.8" cy="477.5" r="0.83" fill="#f4f4f4" opacity="0.65" filter="url(#bl09)"/>
<circle cx="480.5" cy="475.2" r="1.03" fill="#f4f4f4" opacity="0.58" filter="url(#bl09)"/>
<circle cx="470.6" cy="472.2" r="0.96" fill="#f4f4f4" opacity="0.61" filter="url(#bl09)"/>
<circle cx="464.5" cy="468.5" r="1.03" fill="#f4f4f4" opacity="0.50" filter="url(#bl09)"/>
<circle cx="460.1" cy="458.4" r="1.24" fill="#f4f4f4" opacity="0.52" filter="url(#bl09)"/>
<circle cx="460.6" cy="448.6" r="0.97" fill="#f4f4f4" opacity="0.48" filter="url(#bl09)"/>
<circle cx="455.9" cy="436.5" r="0.76" fill="#f4f4f4" opacity="0.63" filter="url(#bl09)"/>
<circle cx="455.6" cy="428.6" r="0.93" fill="#f4f4f4" opacity="0.56" filter="url(#bl09)"/>
<circle cx="458.9" cy="420.2" r="1.14" fill="#f4f4f4" opacity="0.52" filter="url(#bl09)"/>
<circle cx="463.7" cy="414.6" r="0.79" fill="#f4f4f4" opacity="0.67" filter="url(#bl09)"/>
<circle cx="456.1" cy="433.5" r="0.84" fill="#f4f4f4" opacity="0.67" filter="url(#bl09)"/>
</g>
<rect x="511.2" y="280.2" width="16.5" height="22.4" fill="none" stroke="#fff" stroke-width="1.6" />
<rect x="502.6" y="448.9" width="19" height="26" fill="none" stroke="#fff" stroke-width="1.6" />
<line x1="432" y1="365.2" x2="449.2" y2="365.2" stroke="#fff" stroke-width="1.6" />
<text x="432" y="361.8" font-size="10.5" text-anchor="start" font-weight="normal" fill="#fff" stroke="#fff" stroke-width="0.3" textLength="24.7" lengthAdjust="spacingAndGlyphs" >10 μm</text>
<rect x="539.6" y="282.5" width="48.4" height="65.5" fill="#080808" stroke="none" stroke-width="1" />
<g clip-path="url(#c3)">
<path d="M539.6 282.5H560L568 300L566 330L558 348H539.6Z" fill="#303030" filter="url(#bl3)"/>
<ellipse cx="547.5" cy="296.5" rx="7.5" ry="3.0" transform="rotate(-25 547.5 296.5)" fill="#fff" opacity="0.9" filter="url(#bl2)"/>
<ellipse cx="569" cy="299.5" rx="3.4" ry="7" transform="rotate(12 569 299.5)" fill="#fff" opacity="0.85" filter="url(#bl2)"/>
<ellipse cx="559" cy="308.5" rx="7.5" ry="3.2" transform="rotate(-30 559 308.5)" fill="#fff" opacity="1" filter="url(#bl2)"/>
<ellipse cx="560.5" cy="318.5" rx="8.5" ry="3.2" transform="rotate(-30 560.5 318.5)" fill="#fff" opacity="1" filter="url(#bl2)"/>
<ellipse cx="563.5" cy="329.5" rx="7.5" ry="3.0" transform="rotate(-35 563.5 329.5)" fill="#fff" opacity="0.95" filter="url(#bl2)"/>
<ellipse cx="571.5" cy="340" rx="3.0" ry="6.5" transform="rotate(12 571.5 340)" fill="#fff" opacity="0.85" filter="url(#bl2)"/>
<ellipse cx="543" cy="288" rx="4.5" ry="2.2" transform="rotate(-30 543 288)" fill="#fff" opacity="0.6" filter="url(#bl2)"/>
<ellipse cx="575" cy="322" rx="3.5" ry="2.2" transform="rotate(-30 575 322)" fill="#fff" opacity="0.45" filter="url(#bl2)"/>
<ellipse cx="549" cy="322" rx="6" ry="3.5" transform="rotate(-30 549 322)" fill="#fff" opacity="0.3" filter="url(#bl2)"/>
<ellipse cx="552" cy="338" rx="6" ry="4" transform="rotate(-30 552 338)" fill="#fff" opacity="0.25" filter="url(#bl2)"/>
</g>
<rect x="540.1" y="405.9" width="48" height="65.3" fill="#000" stroke="none" stroke-width="1" />
<g clip-path="url(#c4)">
<path d="M540.1 405.9H571.5L573.5 414L573.5 423L570.5 434L567 444L563 455L558 464L554 471.2H540.1Z" fill="#5a5a5a" filter="url(#bl1)"/>
<path d="M540.1 405.9H571.5L573.5 414L573.5 423L570.5 434L567 444L563 455L558 464L554 471.2H540.1Z" fill="#fff" filter="url(#spk)" opacity="0.3"/>
<circle cx="572" cy="422" r="2.0" fill="#fff" opacity="0.85" filter="url(#bl1)"/>
<circle cx="567" cy="434" r="1.7" fill="#fff" opacity="0.85" filter="url(#bl1)"/>
<circle cx="560" cy="446" r="1.5" fill="#fff" opacity="0.85" filter="url(#bl1)"/>
<circle cx="557" cy="460" r="1.5" fill="#fff" opacity="0.85" filter="url(#bl1)"/>
<circle cx="571" cy="411" r="1.4" fill="#fff" opacity="0.85" filter="url(#bl1)"/>
<circle cx="565" cy="440" r="1.3" fill="#fff" opacity="0.85" filter="url(#bl1)"/>
<circle cx="552" cy="440" r="1.2" fill="#fff" opacity="0.85" filter="url(#bl1)"/>
<circle cx="548" cy="425" r="1.2" fill="#fff" opacity="0.85" filter="url(#bl1)"/>
<circle cx="556" cy="418" r="1.1" fill="#fff" opacity="0.85" filter="url(#bl1)"/>
</g>
<text x="449.8" y="259.3" font-size="12" text-anchor="start" font-weight="normal" fill="#3a3a3a" stroke="#3a3a3a" stroke-width="0.3" textLength="66.3" lengthAdjust="spacingAndGlyphs" >Control MEFs</text>
<text x="439.5" y="383.2" font-size="12" text-anchor="start" font-weight="normal" fill="#3a3a3a" stroke="#3a3a3a" stroke-width="0.3" textLength="87.2" lengthAdjust="spacingAndGlyphs" >Tpm2.1-KD MEFs</text>
<rect x="642.90" y="430" width="1.72" height="34.6" fill="#f2a6ae" stroke="#d8808c" stroke-width="0.7" />
<rect x="645.32" y="298.5" width="1.72" height="166.1" fill="#f2a6ae" stroke="#d8808c" stroke-width="0.7" />
<rect x="647.74" y="265.7" width="1.72" height="198.9" fill="#f2a6ae" stroke="#d8808c" stroke-width="0.7" />
<rect x="650.16" y="330" width="1.72" height="134.6" fill="#f2a6ae" stroke="#d8808c" stroke-width="0.7" />
<rect x="652.58" y="332" width="1.72" height="132.6" fill="#f2a6ae" stroke="#d8808c" stroke-width="0.7" />
<rect x="655.00" y="392" width="1.72" height="72.6" fill="#f2a6ae" stroke="#d8808c" stroke-width="0.7" />
<rect x="657.42" y="413.4" width="1.72" height="51.2" fill="#f2a6ae" stroke="#d8808c" stroke-width="0.7" />
<rect x="659.84" y="424.5" width="1.72" height="40.1" fill="#f2a6ae" stroke="#d8808c" stroke-width="0.7" />
<rect x="662.26" y="429.7" width="1.72" height="34.9" fill="#f2a6ae" stroke="#d8808c" stroke-width="0.7" />
<rect x="664.68" y="441" width="1.72" height="23.6" fill="#f2a6ae" stroke="#d8808c" stroke-width="0.7" />
<rect x="667.10" y="441" width="1.72" height="23.6" fill="#f2a6ae" stroke="#d8808c" stroke-width="0.7" />
<rect x="669.52" y="441" width="1.72" height="23.6" fill="#f2a6ae" stroke="#d8808c" stroke-width="0.7" />
<rect x="671.94" y="453" width="1.72" height="11.6" fill="#f2a6ae" stroke="#d8808c" stroke-width="0.7" />
<rect x="674.36" y="453" width="1.72" height="11.6" fill="#f2a6ae" stroke="#d8808c" stroke-width="0.7" />
<rect x="676.78" y="452.4" width="1.72" height="12.2" fill="#f2a6ae" stroke="#d8808c" stroke-width="0.7" />
<rect x="679.20" y="450.3" width="1.72" height="14.3" fill="#f2a6ae" stroke="#d8808c" stroke-width="0.7" />
<rect x="681.62" y="448.9" width="1.72" height="15.7" fill="#f2a6ae" stroke="#d8808c" stroke-width="0.7" />
<rect x="684.04" y="446.7" width="1.72" height="17.9" fill="#f2a6ae" stroke="#d8808c" stroke-width="0.7" />
<rect x="686.46" y="446.7" width="1.72" height="17.9" fill="#f2a6ae" stroke="#d8808c" stroke-width="0.7" />
<rect x="688.88" y="456" width="1.72" height="8.6" fill="#f2a6ae" stroke="#d8808c" stroke-width="0.7" />
<rect x="691.30" y="461" width="1.72" height="3.6" fill="#f2a6ae" stroke="#d8808c" stroke-width="0.7" />
<rect x="693.72" y="461" width="1.72" height="3.6" fill="#f2a6ae" stroke="#d8808c" stroke-width="0.7" />
<rect x="696.14" y="461" width="1.72" height="3.6" fill="#f2a6ae" stroke="#d8808c" stroke-width="0.7" />
<rect x="698.56" y="461.5" width="1.72" height="3.1" fill="#f2a6ae" stroke="#d8808c" stroke-width="0.7" />
<rect x="700.98" y="462" width="1.72" height="2.6" fill="#f2a6ae" stroke="#d8808c" stroke-width="0.7" />
<rect x="703.40" y="461" width="1.72" height="3.6" fill="#f2a6ae" stroke="#d8808c" stroke-width="0.7" />
<rect x="705.82" y="461.5" width="1.72" height="3.1" fill="#f2a6ae" stroke="#d8808c" stroke-width="0.7" />
<rect x="708.24" y="460.4" width="1.72" height="4.2" fill="#f2a6ae" stroke="#d8808c" stroke-width="0.7" />
<rect x="710.66" y="460.4" width="1.72" height="4.2" fill="#f2a6ae" stroke="#d8808c" stroke-width="0.7" />
<rect x="713.08" y="462" width="1.72" height="2.6" fill="#f2a6ae" stroke="#d8808c" stroke-width="0.7" />
<rect x="715.50" y="463" width="1.72" height="1.6" fill="#f2a6ae" stroke="#d8808c" stroke-width="0.7" />
<rect x="644.42" y="447.8" width="1.62" height="16.8" fill="#b8d0f4" stroke="#7898d4" stroke-width="0.7" style="mix-blend-mode:multiply"/>
<rect x="646.84" y="446" width="1.62" height="18.6" fill="#b8d0f4" stroke="#7898d4" stroke-width="0.7" style="mix-blend-mode:multiply"/>
<rect x="649.26" y="437" width="1.62" height="27.6" fill="#b8d0f4" stroke="#7898d4" stroke-width="0.7" style="mix-blend-mode:multiply"/>
<rect x="651.68" y="430" width="1.62" height="34.6" fill="#b8d0f4" stroke="#7898d4" stroke-width="0.7" style="mix-blend-mode:multiply"/>
<rect x="654.10" y="425.5" width="1.62" height="39.1" fill="#b8d0f4" stroke="#7898d4" stroke-width="0.7" style="mix-blend-mode:multiply"/>
<rect x="656.52" y="424" width="1.62" height="40.6" fill="#b8d0f4" stroke="#7898d4" stroke-width="0.7" style="mix-blend-mode:multiply"/>
<rect x="658.94" y="427" width="1.62" height="37.6" fill="#b8d0f4" stroke="#7898d4" stroke-width="0.7" style="mix-blend-mode:multiply"/>
<rect x="661.36" y="414.2" width="1.62" height="50.4" fill="#b8d0f4" stroke="#7898d4" stroke-width="0.7" style="mix-blend-mode:multiply"/>
<rect x="663.78" y="403.6" width="1.62" height="61.0" fill="#b8d0f4" stroke="#7898d4" stroke-width="0.7" style="mix-blend-mode:multiply"/>
<rect x="666.20" y="407.8" width="1.62" height="56.8" fill="#b8d0f4" stroke="#7898d4" stroke-width="0.7" style="mix-blend-mode:multiply"/>
<rect x="668.62" y="437.5" width="1.62" height="27.1" fill="#b8d0f4" stroke="#7898d4" stroke-width="0.7" style="mix-blend-mode:multiply"/>
<rect x="671.04" y="405.7" width="1.62" height="58.9" fill="#b8d0f4" stroke="#7898d4" stroke-width="0.7" style="mix-blend-mode:multiply"/>
<rect x="673.46" y="424.8" width="1.62" height="39.8" fill="#b8d0f4" stroke="#7898d4" stroke-width="0.7" style="mix-blend-mode:multiply"/>
<rect x="675.88" y="431.2" width="1.62" height="33.4" fill="#b8d0f4" stroke="#7898d4" stroke-width="0.7" style="mix-blend-mode:multiply"/>
<rect x="678.30" y="429" width="1.62" height="35.6" fill="#b8d0f4" stroke="#7898d4" stroke-width="0.7" style="mix-blend-mode:multiply"/>
<rect x="680.72" y="437.5" width="1.62" height="27.1" fill="#b8d0f4" stroke="#7898d4" stroke-width="0.7" style="mix-blend-mode:multiply"/>
<rect x="683.14" y="438.2" width="1.62" height="26.4" fill="#b8d0f4" stroke="#7898d4" stroke-width="0.7" style="mix-blend-mode:multiply"/>
<rect x="685.56" y="438.2" width="1.62" height="26.4" fill="#b8d0f4" stroke="#7898d4" stroke-width="0.7" style="mix-blend-mode:multiply"/>
<rect x="687.98" y="435.4" width="1.62" height="29.2" fill="#b8d0f4" stroke="#7898d4" stroke-width="0.7" style="mix-blend-mode:multiply"/>
<rect x="690.40" y="443.9" width="1.62" height="20.7" fill="#b8d0f4" stroke="#7898d4" stroke-width="0.7" style="mix-blend-mode:multiply"/>
<rect x="692.82" y="450.3" width="1.62" height="14.3" fill="#b8d0f4" stroke="#7898d4" stroke-width="0.7" style="mix-blend-mode:multiply"/>
<rect x="695.24" y="441.8" width="1.62" height="22.8" fill="#b8d0f4" stroke="#7898d4" stroke-width="0.7" style="mix-blend-mode:multiply"/>
<rect x="697.66" y="450.3" width="1.62" height="14.3" fill="#b8d0f4" stroke="#7898d4" stroke-width="0.7" style="mix-blend-mode:multiply"/>
<rect x="700.08" y="444" width="1.62" height="20.6" fill="#b8d0f4" stroke="#7898d4" stroke-width="0.7" style="mix-blend-mode:multiply"/>
<rect x="702.50" y="447.7" width="1.62" height="16.9" fill="#b8d0f4" stroke="#7898d4" stroke-width="0.7" style="mix-blend-mode:multiply"/>
<rect x="704.92" y="440.2" width="1.62" height="24.4" fill="#b8d0f4" stroke="#7898d4" stroke-width="0.7" style="mix-blend-mode:multiply"/>
<rect x="707.34" y="444" width="1.62" height="20.6" fill="#b8d0f4" stroke="#7898d4" stroke-width="0.7" style="mix-blend-mode:multiply"/>
<rect x="709.76" y="450" width="1.62" height="14.6" fill="#b8d0f4" stroke="#7898d4" stroke-width="0.7" style="mix-blend-mode:multiply"/>
<rect x="712.18" y="460.5" width="1.62" height="4.1" fill="#b8d0f4" stroke="#7898d4" stroke-width="0.7" style="mix-blend-mode:multiply"/>
<rect x="714.60" y="459" width="1.62" height="5.6" fill="#b8d0f4" stroke="#7898d4" stroke-width="0.7" style="mix-blend-mode:multiply"/>
<rect x="717.02" y="456.7" width="1.62" height="7.9" fill="#b8d0f4" stroke="#7898d4" stroke-width="0.7" style="mix-blend-mode:multiply"/>
<rect x="719.44" y="454.7" width="1.62" height="9.9" fill="#b8d0f4" stroke="#7898d4" stroke-width="0.7" style="mix-blend-mode:multiply"/>
<rect x="721.86" y="456.7" width="1.62" height="7.9" fill="#b8d0f4" stroke="#7898d4" stroke-width="0.7" style="mix-blend-mode:multiply"/>
<rect x="724.28" y="452.2" width="1.62" height="12.4" fill="#b8d0f4" stroke="#7898d4" stroke-width="0.7" style="mix-blend-mode:multiply"/>
<rect x="726.70" y="452.2" width="1.62" height="12.4" fill="#b8d0f4" stroke="#7898d4" stroke-width="0.7" style="mix-blend-mode:multiply"/>
<rect x="729.12" y="454.7" width="1.62" height="9.9" fill="#b8d0f4" stroke="#7898d4" stroke-width="0.7" style="mix-blend-mode:multiply"/>
<rect x="731.54" y="458.9" width="1.62" height="5.7" fill="#b8d0f4" stroke="#7898d4" stroke-width="0.7" style="mix-blend-mode:multiply"/>
<rect x="733.96" y="456.7" width="1.62" height="7.9" fill="#b8d0f4" stroke="#7898d4" stroke-width="0.7" style="mix-blend-mode:multiply"/>
<rect x="736.38" y="454.7" width="1.62" height="9.9" fill="#b8d0f4" stroke="#7898d4" stroke-width="0.7" style="mix-blend-mode:multiply"/>
<rect x="738.80" y="461.2" width="1.62" height="3.4" fill="#b8d0f4" stroke="#7898d4" stroke-width="0.7" style="mix-blend-mode:multiply"/>
<rect x="741.22" y="458.9" width="1.62" height="5.7" fill="#b8d0f4" stroke="#7898d4" stroke-width="0.7" style="mix-blend-mode:multiply"/>
<rect x="743.64" y="452.2" width="1.62" height="12.4" fill="#b8d0f4" stroke="#7898d4" stroke-width="0.7" style="mix-blend-mode:multiply"/>
<rect x="746.06" y="461.2" width="1.62" height="3.4" fill="#b8d0f4" stroke="#7898d4" stroke-width="0.7" style="mix-blend-mode:multiply"/>
<rect x="748.48" y="458.9" width="1.62" height="5.7" fill="#b8d0f4" stroke="#7898d4" stroke-width="0.7" style="mix-blend-mode:multiply"/>
<rect x="750.90" y="458.9" width="1.62" height="5.7" fill="#b8d0f4" stroke="#7898d4" stroke-width="0.7" style="mix-blend-mode:multiply"/>
<rect x="753.32" y="461.2" width="1.62" height="3.4" fill="#b8d0f4" stroke="#7898d4" stroke-width="0.7" style="mix-blend-mode:multiply"/>
<rect x="755.74" y="463.4" width="1.62" height="1.2" fill="#b8d0f4" stroke="#7898d4" stroke-width="0.7" style="mix-blend-mode:multiply"/>
<rect x="758.16" y="454.7" width="1.62" height="9.9" fill="#b8d0f4" stroke="#7898d4" stroke-width="0.7" style="mix-blend-mode:multiply"/>
<rect x="760.58" y="463.4" width="1.62" height="1.2" fill="#b8d0f4" stroke="#7898d4" stroke-width="0.7" style="mix-blend-mode:multiply"/>
<rect x="763.00" y="458.9" width="1.62" height="5.7" fill="#b8d0f4" stroke="#7898d4" stroke-width="0.7" style="mix-blend-mode:multiply"/>
<rect x="765.42" y="463.4" width="1.62" height="1.2" fill="#b8d0f4" stroke="#7898d4" stroke-width="0.7" style="mix-blend-mode:multiply"/>
<rect x="767.84" y="463.4" width="1.62" height="1.2" fill="#b8d0f4" stroke="#7898d4" stroke-width="0.7" style="mix-blend-mode:multiply"/>
<rect x="770.26" y="458.9" width="1.62" height="5.7" fill="#b8d0f4" stroke="#7898d4" stroke-width="0.7" style="mix-blend-mode:multiply"/>
<line x1="640.8" y1="265" x2="640.8" y2="464.6" stroke="#9a9a9a" stroke-width="1.3" />
<line x1="640.8" y1="464.6" x2="772.6" y2="464.6" stroke="#8a8a8a" stroke-width="1.3" />
<line x1="638" y1="464.6" x2="640.8" y2="464.6" stroke="#9a9a9a" stroke-width="1" />
<line x1="638" y1="422.0" x2="640.8" y2="422.0" stroke="#9a9a9a" stroke-width="1" />
<line x1="638" y1="379.40000000000003" x2="640.8" y2="379.40000000000003" stroke="#9a9a9a" stroke-width="1" />
<line x1="638" y1="336.8" x2="640.8" y2="336.8" stroke="#9a9a9a" stroke-width="1" />
<line x1="638" y1="294.20000000000005" x2="640.8" y2="294.20000000000005" stroke="#9a9a9a" stroke-width="1" />
<line x1="641.70" y1="464.6" x2="641.70" y2="467.8" stroke="#8a8a8a" stroke-width="0.6" />
<line x1="644.12" y1="464.6" x2="644.12" y2="467.8" stroke="#8a8a8a" stroke-width="0.6" />
<line x1="646.54" y1="464.6" x2="646.54" y2="467.8" stroke="#8a8a8a" stroke-width="0.6" />
<line x1="648.96" y1="464.6" x2="648.96" y2="467.8" stroke="#8a8a8a" stroke-width="0.6" />
<line x1="651.38" y1="464.6" x2="651.38" y2="467.8" stroke="#8a8a8a" stroke-width="0.6" />
<line x1="653.80" y1="464.6" x2="653.80" y2="467.8" stroke="#8a8a8a" stroke-width="0.6" />
<line x1="656.22" y1="464.6" x2="656.22" y2="467.8" stroke="#8a8a8a" stroke-width="0.6" />
<line x1="658.64" y1="464.6" x2="658.64" y2="467.8" stroke="#8a8a8a" stroke-width="0.6" />
<line x1="661.06" y1="464.6" x2="661.06" y2="467.8" stroke="#8a8a8a" stroke-width="0.6" />
<line x1="663.48" y1="464.6" x2="663.48" y2="467.8" stroke="#8a8a8a" stroke-width="0.6" />
<line x1="665.90" y1="464.6" x2="665.90" y2="467.8" stroke="#8a8a8a" stroke-width="0.6" />
<line x1="668.32" y1="464.6" x2="668.32" y2="467.8" stroke="#8a8a8a" stroke-width="0.6" />
<line x1="670.74" y1="464.6" x2="670.74" y2="467.8" stroke="#8a8a8a" stroke-width="0.6" />
<line x1="673.16" y1="464.6" x2="673.16" y2="467.8" stroke="#8a8a8a" stroke-width="0.6" />
<line x1="675.58" y1="464.6" x2="675.58" y2="467.8" stroke="#8a8a8a" stroke-width="0.6" />
<line x1="678.00" y1="464.6" x2="678.00" y2="467.8" stroke="#8a8a8a" stroke-width="0.6" />
<line x1="680.42" y1="464.6" x2="680.42" y2="467.8" stroke="#8a8a8a" stroke-width="0.6" />
<line x1="682.84" y1="464.6" x2="682.84" y2="467.8" stroke="#8a8a8a" stroke-width="0.6" />
<line x1="685.26" y1="464.6" x2="685.26" y2="467.8" stroke="#8a8a8a" stroke-width="0.6" />
<line x1="687.68" y1="464.6" x2="687.68" y2="467.8" stroke="#8a8a8a" stroke-width="0.6" />
<line x1="690.10" y1="464.6" x2="690.10" y2="467.8" stroke="#8a8a8a" stroke-width="0.6" />
<line x1="692.52" y1="464.6" x2="692.52" y2="467.8" stroke="#8a8a8a" stroke-width="0.6" />
<line x1="694.94" y1="464.6" x2="694.94" y2="467.8" stroke="#8a8a8a" stroke-width="0.6" />
<line x1="697.36" y1="464.6" x2="697.36" y2="467.8" stroke="#8a8a8a" stroke-width="0.6" />
<line x1="699.78" y1="464.6" x2="699.78" y2="467.8" stroke="#8a8a8a" stroke-width="0.6" />
<line x1="702.20" y1="464.6" x2="702.20" y2="467.8" stroke="#8a8a8a" stroke-width="0.6" />
<line x1="704.62" y1="464.6" x2="704.62" y2="467.8" stroke="#8a8a8a" stroke-width="0.6" />
<line x1="707.04" y1="464.6" x2="707.04" y2="467.8" stroke="#8a8a8a" stroke-width="0.6" />
<line x1="709.46" y1="464.6" x2="709.46" y2="467.8" stroke="#8a8a8a" stroke-width="0.6" />
<line x1="711.88" y1="464.6" x2="711.88" y2="467.8" stroke="#8a8a8a" stroke-width="0.6" />
<line x1="714.30" y1="464.6" x2="714.30" y2="467.8" stroke="#8a8a8a" stroke-width="0.6" />
<line x1="716.72" y1="464.6" x2="716.72" y2="467.8" stroke="#8a8a8a" stroke-width="0.6" />
<line x1="719.14" y1="464.6" x2="719.14" y2="467.8" stroke="#8a8a8a" stroke-width="0.6" />
<line x1="721.56" y1="464.6" x2="721.56" y2="467.8" stroke="#8a8a8a" stroke-width="0.6" />
<line x1="723.98" y1="464.6" x2="723.98" y2="467.8" stroke="#8a8a8a" stroke-width="0.6" />
<line x1="726.40" y1="464.6" x2="726.40" y2="467.8" stroke="#8a8a8a" stroke-width="0.6" />
<line x1="728.82" y1="464.6" x2="728.82" y2="467.8" stroke="#8a8a8a" stroke-width="0.6" />
<line x1="731.24" y1="464.6" x2="731.24" y2="467.8" stroke="#8a8a8a" stroke-width="0.6" />
<line x1="733.66" y1="464.6" x2="733.66" y2="467.8" stroke="#8a8a8a" stroke-width="0.6" />
<line x1="736.08" y1="464.6" x2="736.08" y2="467.8" stroke="#8a8a8a" stroke-width="0.6" />
<line x1="738.50" y1="464.6" x2="738.50" y2="467.8" stroke="#8a8a8a" stroke-width="0.6" />
<line x1="740.92" y1="464.6" x2="740.92" y2="467.8" stroke="#8a8a8a" stroke-width="0.6" />
<line x1="743.34" y1="464.6" x2="743.34" y2="467.8" stroke="#8a8a8a" stroke-width="0.6" />
<line x1="745.76" y1="464.6" x2="745.76" y2="467.8" stroke="#8a8a8a" stroke-width="0.6" />
<line x1="748.18" y1="464.6" x2="748.18" y2="467.8" stroke="#8a8a8a" stroke-width="0.6" />
<line x1="750.60" y1="464.6" x2="750.60" y2="467.8" stroke="#8a8a8a" stroke-width="0.6" />
<line x1="753.02" y1="464.6" x2="753.02" y2="467.8" stroke="#8a8a8a" stroke-width="0.6" />
<line x1="755.44" y1="464.6" x2="755.44" y2="467.8" stroke="#8a8a8a" stroke-width="0.6" />
<line x1="757.86" y1="464.6" x2="757.86" y2="467.8" stroke="#8a8a8a" stroke-width="0.6" />
<line x1="760.28" y1="464.6" x2="760.28" y2="467.8" stroke="#8a8a8a" stroke-width="0.6" />
<line x1="762.70" y1="464.6" x2="762.70" y2="467.8" stroke="#8a8a8a" stroke-width="0.6" />
<line x1="765.12" y1="464.6" x2="765.12" y2="467.8" stroke="#8a8a8a" stroke-width="0.6" />
<line x1="767.54" y1="464.6" x2="767.54" y2="467.8" stroke="#8a8a8a" stroke-width="0.6" />
<line x1="769.96" y1="464.6" x2="769.96" y2="467.8" stroke="#8a8a8a" stroke-width="0.6" />
<line x1="772.38" y1="464.6" x2="772.38" y2="467.8" stroke="#8a8a8a" stroke-width="0.6" />
<line x1="774.80" y1="464.6" x2="774.80" y2="467.8" stroke="#8a8a8a" stroke-width="0.6" />
<text x="637.2" y="297.6" font-size="14" text-anchor="end" font-weight="normal" fill="#222" stroke="#222" stroke-width="0.3" >16</text>
<text x="637.8" y="382.3" font-size="14" text-anchor="end" font-weight="normal" fill="#222" stroke="#222" stroke-width="0.3" >8</text>
<text x="637" y="468.7" font-size="14" text-anchor="end" font-weight="normal" fill="#222" stroke="#222" stroke-width="0.3" >0</text>
<text x="641.7" y="477.8" font-size="12.5" text-anchor="middle" font-weight="normal" fill="#222" stroke="#222" stroke-width="0.3" >0</text>
<text x="665.9000000000001" y="477.8" font-size="12.5" text-anchor="middle" font-weight="normal" fill="#222" stroke="#222" stroke-width="0.3" >1</text>
<text x="690.1" y="477.8" font-size="12.5" text-anchor="middle" font-weight="normal" fill="#222" stroke="#222" stroke-width="0.3" >2</text>
<text x="714.3000000000001" y="477.8" font-size="12.5" text-anchor="middle" font-weight="normal" fill="#222" stroke="#222" stroke-width="0.3" >3</text>
<text x="738.5" y="477.8" font-size="12.5" text-anchor="middle" font-weight="normal" fill="#222" stroke="#222" stroke-width="0.3" >4</text>
<text x="762.7" y="477.8" font-size="12.5" text-anchor="middle" font-weight="normal" fill="#222" stroke="#222" stroke-width="0.3" >5</text>
<text x="656" y="489.4" font-size="14" text-anchor="start" font-weight="normal" fill="#222" stroke="#222" stroke-width="0.3" textLength="112.6" lengthAdjust="spacingAndGlyphs" >adhesion size (μm</text>
<text x="769" y="486.5" font-size="9.5" text-anchor="start" font-weight="normal" fill="#222" stroke="#222" stroke-width="0.3" textLength="4.6" lengthAdjust="spacingAndGlyphs" >2</text>
<text x="775" y="489.4" font-size="14" text-anchor="start" font-weight="normal" fill="#222" stroke="#222" stroke-width="0.3" >)</text>
<text x="0" y="0" font-size="14" text-anchor="middle" font-weight="normal" fill="#222" stroke="#222" stroke-width="0.3" textLength="141.7" lengthAdjust="spacingAndGlyphs" transform="translate(617.4 367.2) rotate(-90)">normalized frequency (%)</text>
<rect x="664.4" y="276.9" width="9.4" height="8.8" fill="#c0504d" stroke="none" stroke-width="1" />
<rect x="664.4" y="331.2" width="9.4" height="8.6" fill="#4f7fbf" stroke="none" stroke-width="1" />
<text x="676.6" y="284.6" font-size="13.5" text-anchor="start" font-weight="bold" fill="#111" stroke="#111" stroke-width="0.2" textLength="69.2" lengthAdjust="spacingAndGlyphs" >Tpm2.1-KD</text>
<text x="676.3" y="299.6" font-size="13.2" text-anchor="start" font-weight="normal" fill="#222" stroke="#222" stroke-width="0.3" textLength="103.5" lengthAdjust="spacingAndGlyphs" >size: 0.74±0.02 μm</text>
<text x="781" y="296.6" font-size="11" text-anchor="start" font-weight="normal" fill="#222" stroke="#222" stroke-width="0.3" textLength="5.2" lengthAdjust="spacingAndGlyphs" >2</text>
<text x="676.6" y="314.6" font-size="13.5" text-anchor="start" font-weight="normal" fill="#222" stroke="#222" stroke-width="0.3" textLength="122.6" lengthAdjust="spacingAndGlyphs" >no. of adhesions: 41±3</text>
<text x="677" y="337.5" font-size="14" text-anchor="start" font-weight="bold" fill="#111" stroke="#111" stroke-width="0.2" textLength="43.4" lengthAdjust="spacingAndGlyphs" >control</text>
<text x="677" y="355" font-size="14.2" text-anchor="start" font-weight="normal" fill="#222" stroke="#222" stroke-width="0.3" textLength="88.6" lengthAdjust="spacingAndGlyphs" >2.05 ± 0.07 μm</text>
<text x="766.4" y="351.9" font-size="10.5" text-anchor="start" font-weight="normal" fill="#222" stroke="#222" stroke-width="0.3" textLength="4.6" lengthAdjust="spacingAndGlyphs" >2</text>
<text x="677" y="369.9" font-size="13.5" text-anchor="start" font-weight="normal" fill="#222" stroke="#222" stroke-width="0.3" textLength="122.6" lengthAdjust="spacingAndGlyphs" >no. of adhesions: 43±4</text></svg></body></html>
